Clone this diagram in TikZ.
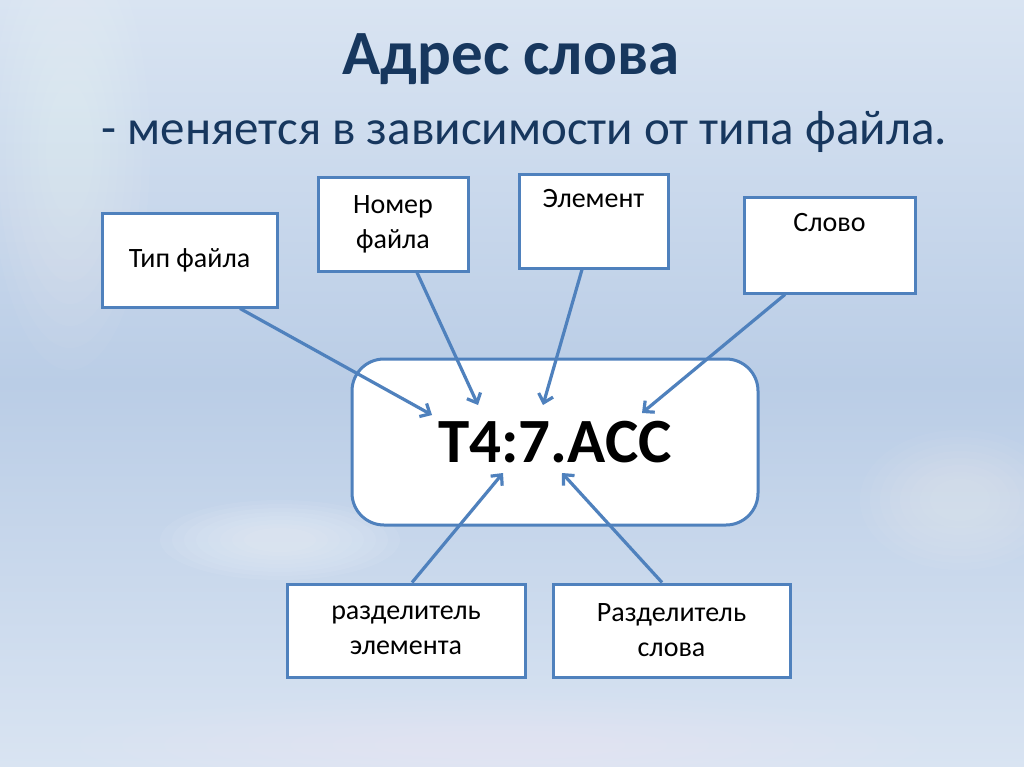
\documentclass[tikz,border=0pt]{standalone}
\usepackage{fontspec}
\setmainfont{Carlito}
\usetikzlibrary{arrows.meta,calc}
\definecolor{bgmid}{HTML}{BACDE6}
\definecolor{bglight}{HTML}{D9E4F2}
\definecolor{boxblue}{HTML}{4F81BD}
\definecolor{titleblue}{HTML}{17375E}
\tikzset{
  x=1pt,y=-1pt,
  box/.style={draw=boxblue,line width=3pt,fill=white,inner sep=0pt,align=center,font=\fontsize{28}{35}\selectfont,text=black},
  conn/.style={draw=boxblue,line width=3.2pt,-{Straight Barb[length=8pt,width=15pt,line width=3.2pt]}},
}
\begin{document}
\begin{tikzpicture}
\useasboundingbox (0,0) rectangle (1024,767);
% background
\shade[top color=bglight,bottom color=bglight,middle color=bgmid] (0,0) rectangle (1024,767);
\foreach \r in {1,0.9,0.8,0.7,0.6,0.5,0.4,0.3}{
  \fill[white,opacity=0.06] (280,540) ellipse ({120*\r} and {40*\r});
  \fill[white,opacity=0.04] (70,150) ellipse ({80*\r} and {220*\r});
  \fill[white,opacity=0.04] (960,500) ellipse ({100*\r} and {70*\r});
  \fill[white,opacity=0.03] (500,745) ellipse ({420*\r} and {50*\r});
}
% titles
\node[text=titleblue,font=\fontsize{63}{66}\selectfont\bfseries] (title) at (511,59) {Адрес слова};
\node[text=titleblue,font=\fontsize{49}{54}\selectfont,anchor=west] (sub) at (98,132) {- меняется в зависимости от типа файла.};
% central box
\node[draw=boxblue,line width=3pt,fill=white,rounded corners=32pt,minimum width=406pt,minimum height=166pt,font=\fontsize{63}{66}\selectfont\bfseries] (main) at (555,442) {T4:7.ACC};
% boxes
\node[box,minimum width=175pt,minimum height=93pt] (tf) at (189.5,260.5) {Тип файла};
\node[box,minimum width=150pt,minimum height=93pt] (nf) at (393,224.5) {Номер\\файла};
\node[box,minimum width=149pt,minimum height=93pt] (el) at (593.5,221.5) {Элемент\\\strut};
\node[box,minimum width=171pt,minimum height=95pt] (sl) at (829.5,245.5) {Слово\\\strut};
\node[box,minimum width=238pt,minimum height=93pt] (re) at (406,630.5) {разделитель\\элемента};
\node[box,minimum width=237pt,minimum height=93pt] (rs) at (671.5,630.5) {Разделитель\\слова};
% arrow end points
\coordinate (e1) at (432,415);
\coordinate (e2) at (478,405);
\coordinate (e3) at (543,405);
\coordinate (e4) at (642,413);
\coordinate (e5) at (503,473);
\coordinate (e6) at (562,473);
% connectors
\draw[conn] ([xshift=50.5pt]tf.south) -- (e1);
\draw[conn] ([xshift=24pt]nf.south) -- (e2);
\draw[conn] ([xshift=-11.5pt]el.south) -- (e3);
\draw[conn] ([xshift=-44.5pt]sl.south) -- (e4);
\draw[conn] ([xshift=6pt]re.north) -- (e5);
\draw[conn] ([xshift=-9.5pt]rs.north) -- (e6);
\end{tikzpicture}
\end{document}
